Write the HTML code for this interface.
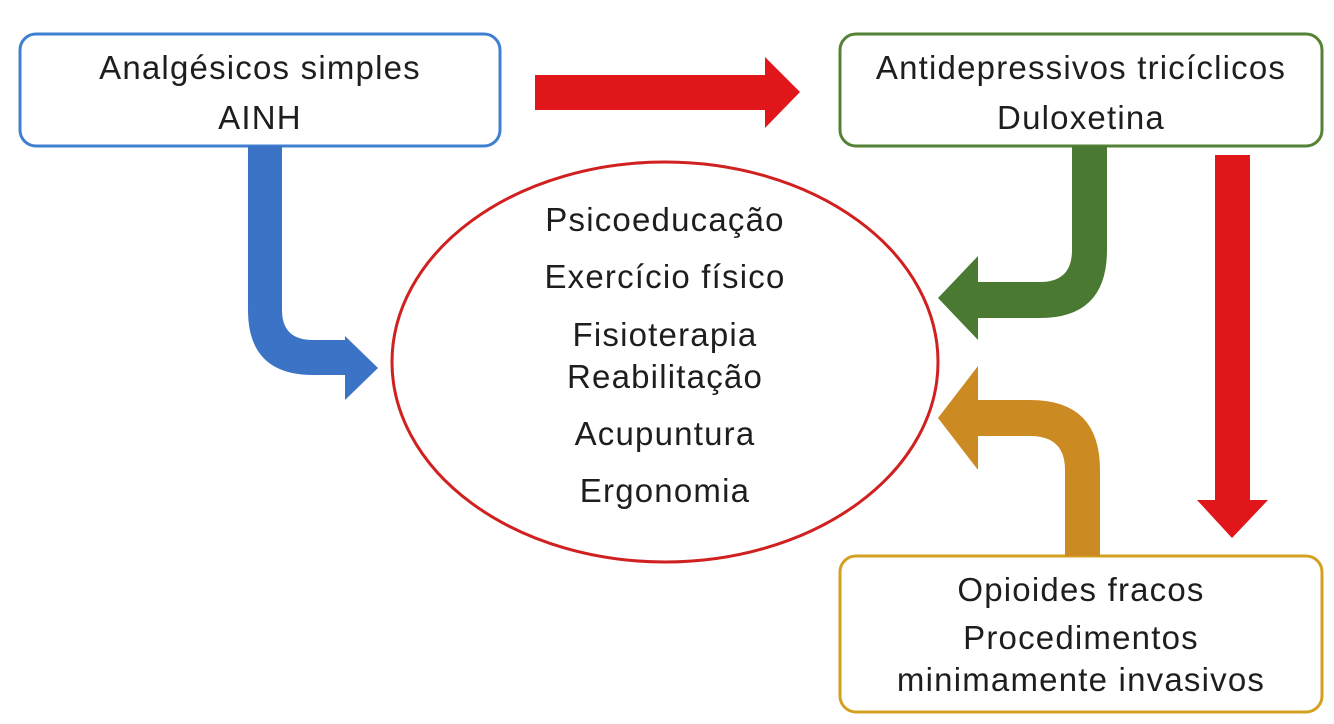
<!DOCTYPE html>
<html><head><meta charset="utf-8"><style>
html,body{margin:0;padding:0;background:#fff;}
svg{display:block;}
text{font-family:"Liberation Sans","DejaVu Sans",sans-serif;font-size:33px;letter-spacing:1.2px;fill:#1e1e1e;text-anchor:middle;}
</style></head><body>
<svg width="1334" height="724" viewBox="0 0 1334 724" xmlns="http://www.w3.org/2000/svg">
<rect width="1334" height="724" fill="#fff"/>
<rect x="20" y="34" width="480" height="112" rx="16" fill="#fff" stroke="#3f7fd0" stroke-width="3"/>
<rect x="840" y="34" width="482" height="112" rx="16" fill="#fff" stroke="#548235" stroke-width="3"/>
<rect x="840" y="556" width="482" height="156" rx="16" fill="#fff" stroke="#d4a020" stroke-width="3"/>
<ellipse cx="665" cy="362" rx="273" ry="200" fill="#fff" stroke="#d02020" stroke-width="3"/>
<path d="M535,75 L765,75 L765,57 L800,92 L765,128 L765,110 L535,110 Z" fill="#e0161b"/>
<path d="M1215,155 L1250,155 L1250,500 L1268,500 L1232,538 L1197,500 L1215,500 Z" fill="#e0161b"/>
<path d="M248,146 L248,310 Q248,375 313,375 L345,375 L345,400 L378,368 L345,336 L345,340 L313,340 Q282,340 282,310 L282,146 Z" fill="#3b74c6"/>
<path d="M1107,146 L1107,250 Q1107,318 1040,318 L978,318 L978,340 L938,298 L978,256 L978,282 L1040,282 Q1072,282 1072,250 L1072,146 Z" fill="#4a7a32"/>
<path d="M1100,556 L1100,470 Q1100,400 1030,400 L978,400 L978,366 L938,418 L978,470 L978,436 L1030,436 Q1065,436 1065,470 L1065,556 Z" fill="#cc8a22"/>
<text x="260" y="79">Analgésicos simples</text>
<text x="260" y="129">AINH</text>
<text x="1081" y="79">Antidepressivos tricíclicos</text>
<text x="1081" y="129">Duloxetina</text>
<text x="1081" y="601">Opioides fracos</text>
<text x="1081" y="649">Procedimentos</text>
<text x="1081" y="691">minimamente invasivos</text>
<text x="665" y="231">Psicoeducação</text>
<text x="665" y="288">Exercício físico</text>
<text x="665" y="346">Fisioterapia</text>
<text x="665" y="388">Reabilitação</text>
<text x="665" y="445">Acupuntura</text>
<text x="665" y="502">Ergonomia</text>
</svg>
</body></html>
